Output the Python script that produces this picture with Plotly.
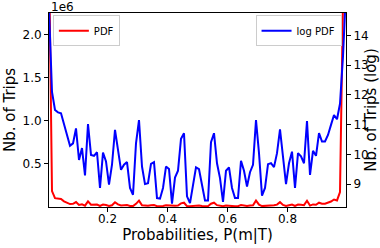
import plotly.graph_objects as go

# Bin centres of probabilities P(m|T)
prob = [round(0.005 + 0.01 * i, 3) for i in range(100)]

# log PDF (natural log of number of trips)
log_pdf = [
    14.9, 12.1, 11.49, 11.41, 11.38, 11.02, 10.65, 10.29, 10.37, 10.87,
    9.81, 10.21, 9.29, 11.02, 9.98, 9.95, 10.07, 8.87, 10.06, 9.76,
    8.98, 9.65, 10.82, 10.15, 9.48, 9.65, 9.74, 8.87, 8.64, 10.37,
    11.15, 9.59, 9.00, 9.03, 9.68, 9.74, 8.53, 8.51, 8.87, 9.59,
    9.51, 8.34, 9.22, 9.45, 10.52, 10.71, 8.59, 8.36, 8.98, 9.56,
    9.50, 8.95, 8.45, 8.45, 10.41, 10.71, 9.70, 9.20, 8.40, 9.45,
    9.56, 8.87, 8.53, 8.53, 9.78, 9.45, 8.92, 9.40, 9.65, 11.15,
    10.04, 8.61, 8.87, 9.67, 9.70, 9.57, 10.04, 10.84, 9.87, 9.00,
    9.70, 10.09, 8.87, 10.04, 9.93, 9.70, 11.12, 9.31, 10.12, 9.95,
    10.71, 10.43, 10.43, 10.65, 10.99, 11.32, 11.18, 11.70, 13.30, 15.50,
]

# PDF (number of trips)
pdf = [
    2950000, 180000, 97700, 90200, 87500, 61100, 42200, 29400, 31900, 52600,
    18200, 27200, 10800, 61100, 21600, 20900, 23600, 7100, 23400, 17300,
    7900, 15500, 50000, 25600, 13100, 15500, 17000, 7100, 5650, 31900,
    69700, 14600, 8100, 8350, 16000, 17000, 5060, 4960, 7100, 14600,
    13500, 4190, 10100, 12700, 37100, 44900, 5370, 4270, 7900, 14200,
    13400, 7700, 4680, 4680, 33200, 44900, 16300, 9900, 4450, 12700,
    14200, 7100, 5060, 5060, 17700, 12700, 7500, 12100, 15500, 69700,
    22900, 5500, 7100, 15800, 16300, 14300, 22900, 51100, 19300, 8100,
    16300, 24100, 7100, 22900, 20500, 16300, 67600, 11000, 24800, 20900,
    44900, 33900, 33900, 42200, 59300, 82400, 71700, 170000, 2400000, 3300000,
]

x_ticks = [0.2, 0.4, 0.6, 0.8]
y_left_ticks = [0.5e6, 1.0e6, 1.5e6, 2.0e6]
y_left_ticktext = ["0.5", "1.0", "1.5", "2.0"]
y_right_ticks = [9, 10, 11, 12, 13, 14]

font_family = "DejaVu Sans"

fig = go.Figure()
fig.add_trace(go.Scatter(
    x=prob, y=pdf, mode="lines", name="PDF", showlegend=True,
    line=dict(color="#ff0000", width=2), yaxis="y", legend="legend",
))
fig.add_trace(go.Scatter(
    x=prob, y=log_pdf, mode="lines", name="log PDF", showlegend=True,
    line=dict(color="#0000ff", width=2), yaxis="y2", legend="legend2",
))

axis_common = dict(
    showline=True, linecolor="black", linewidth=1,
    ticks="outside", ticklen=4, tickcolor="black", tickwidth=1,
    showgrid=False, zeroline=False, automargin=False,
    tickfont=dict(family=font_family, size=12, color="black"),
)

legend_common = dict(
    yanchor="top", y=0.988,
    bgcolor="rgba(255,255,255,0.8)", bordercolor="#cccccc", borderwidth=1,
    font=dict(size=10, family=font_family), itemwidth=30,
    tracegroupgap=0,
)

fig.update_layout(
    width=380, height=248,
    showlegend=True,
    margin=dict(l=49, r=34, t=13, b=41, autoexpand=False),
    paper_bgcolor="white", plot_bgcolor="white",
    font=dict(family=font_family, color="black"),
    xaxis=dict(
        range=[0.005, 0.995], tickvals=x_ticks, mirror=True,
        ticklabelstandoff=-3,
        title=dict(text="Probabilities, P(m|T)", font=dict(size=15), standoff=2),
        **axis_common,
    ),
    yaxis=dict(
        range=[-0.005e6, 2.255e6], tickvals=y_left_ticks, ticktext=y_left_ticktext,
        title=dict(text="Nb. of Trips", font=dict(size=15), standoff=3),
        **axis_common,
    ),
    yaxis2=dict(
        range=[8.23, 14.75], tickvals=y_right_ticks, overlaying="y", side="right",
        title=dict(text="Nb. of Trips (log)", font=dict(size=15), standoff=4),
        **axis_common,
    ),
    legend=dict(x=0.013, xanchor="left", **legend_common),
    legend2=dict(x=0.985, xanchor="right", **legend_common),
    annotations=[dict(
        text="1e6", x=0, y=1, xref="paper", yref="paper",
        xanchor="left", yanchor="bottom", showarrow=False,
        font=dict(size=12, family=font_family), yshift=-3,
    )],
)

fig.write_html(
    "out.html",
    config={"displayModeBar": False},
    post_script="document.body.style.margin='0px';",
)
